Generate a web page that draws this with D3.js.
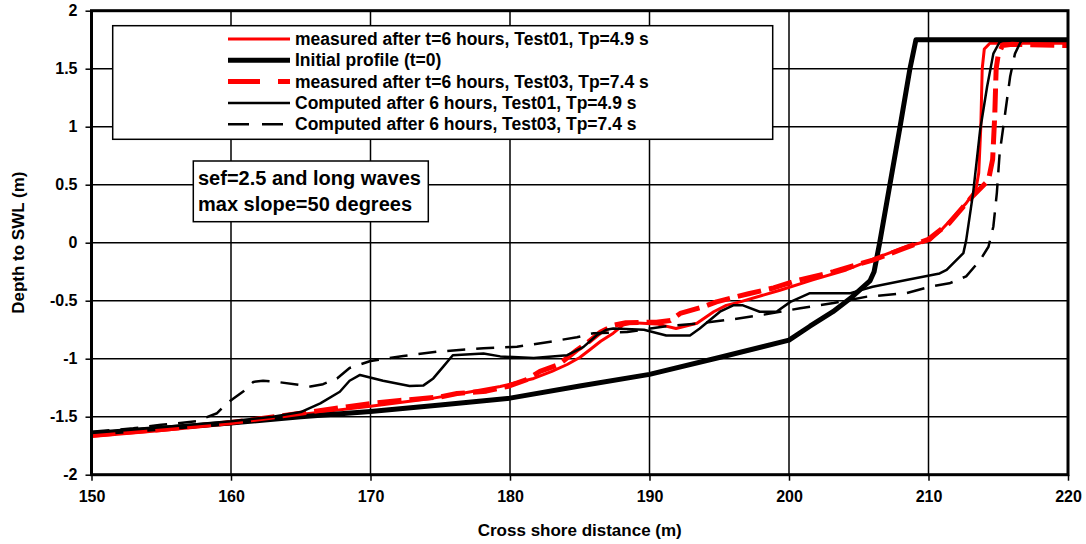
<!DOCTYPE html>
<html>
<head>
<meta charset="utf-8">
<script src="https://cdn.jsdelivr.net/npm/d3@7"></script>
<style>
  html, body { margin: 0; padding: 0; background: #fff; }
  svg { display: block; font-family: "Liberation Sans", Arial, sans-serif; font-weight: bold; }
</style>
</head>
<body>
<svg id="chart" width="1086" height="544"></svg>
<script>
// Cross-shore profiles: x = cross shore distance (m), y = depth to SWL (m)
const measuredTest01 = [
  [150,-1.67],[155,-1.62],[160,-1.56],[165,-1.48],[170,-1.41],[174.5,-1.34],[177,-1.29],
  [179.3,-1.24],[181.7,-1.17],[183,-1.11],[184.1,-1.05],[185,-0.99],[185.7,-0.925],
  [186.5,-0.85],[187.4,-0.78],[188.1,-0.71],[188.8,-0.69],[190.5,-0.70],[191.9,-0.74],
  [193.4,-0.695],[194.6,-0.595],[195.5,-0.54],[196.5,-0.51],[199.35,-0.41],[201.7,-0.32],
  [204.1,-0.235],[206.5,-0.12],[208.5,-0.03],[210.1,0.02],[211,0.12],[212.7,0.34],
  [213.4,0.46],[213.6,0.6],[213.75,1.0],[213.85,1.5],[214.0,1.67],[214.4,1.72],[217,1.72],[220,1.72]
];
const initialProfile = [
  [150,-1.645],[155,-1.60],[160,-1.555],[165,-1.50],[170,-1.455],[175,-1.40],[180,-1.34],
  [185,-1.235],[190,-1.135],[195,-0.99],[200,-0.84],[201.5,-0.72],[203.15,-0.595],
  [204.5,-0.47],[205.8,-0.33],[206.1,-0.25],[206.5,0.0],[207.96,1.0],[208.67,1.5],
  [209.1,1.75],[220,1.75]
];
const measuredTest03 = [
  [150,-1.66],[155,-1.61],[160,-1.55],[165,-1.47],[168,-1.42],[170.4,-1.38],[172.1,-1.36],
  [175,-1.33],[176.2,-1.30],[178.3,-1.28],[179.8,-1.24],[181.2,-1.18],[182.15,-1.11],
  [183.5,-1.05],[184.8,-0.925],[185.5,-0.867],[186.5,-0.77],[187.5,-0.71],[188.3,-0.69],
  [190.5,-0.685],[191.5,-0.67],[192.2,-0.61],[193.8,-0.555],[194.8,-0.51],[196.25,-0.465],
  [197.1,-0.44],[198.9,-0.39],[200.3,-0.335],[202.2,-0.28],[203.2,-0.25],[206,-0.15],
  [208,-0.06],[210,0.03],[211.5,0.17],[213,0.38],[214.3,0.54],[214.6,0.72],[214.75,1.1],
  [214.85,1.5],[215.0,1.62],[215.3,1.70],[216,1.71],[220,1.70]
];
const computedTest01 = [
  [150,-1.64],[155,-1.59],[160,-1.54],[163,-1.50],[165,-1.46],[166.4,-1.385],[167.8,-1.285],
  [168.5,-1.19],[169.25,-1.14],[170.9,-1.19],[172.8,-1.235],[173.8,-1.23],[174.5,-1.17],
  [175.2,-1.07],[175.9,-0.97],[178.1,-0.955],[179.3,-0.98],[181.7,-0.995],[184.1,-0.97],
  [185.25,-0.90],[186.2,-0.80],[186.9,-0.75],[187.4,-0.74],[189.6,-0.75],[191.2,-0.80],
  [192.9,-0.80],[193.6,-0.74],[195.05,-0.595],[196,-0.54],[196.7,-0.54],[197.9,-0.595],
  [199.1,-0.595],[200.1,-0.51],[201.5,-0.435],[204.4,-0.435],[206,-0.38],[208.5,-0.32],
  [210.8,-0.265],[211.3,-0.235],[212.5,-0.09],[212.7,0.02],[213.2,0.43],[213.7,0.97],
  [214.2,1.345],[214.65,1.63],[215.1,1.73],[215.5,1.75],[220,1.75]
];
const computedTest03 = [
  [150,-1.63],[153,-1.60],[155,-1.57],[157.5,-1.54],[159,-1.47],[159.7,-1.385],[160.9,-1.28],
  [161.6,-1.20],[162.3,-1.19],[163.3,-1.20],[165.7,-1.24],[166.6,-1.22],[167.6,-1.17],
  [168.5,-1.08],[170,-1.02],[172.35,-0.977],[174.75,-0.94],[178.1,-0.91],[180.5,-0.897],
  [182.9,-0.853],[184.8,-0.815],[186,-0.78],[188.4,-0.77],[191.2,-0.72],[193.6,-0.695],
  [196,-0.66],[198.2,-0.62],[200.8,-0.565],[203.2,-0.52],[205.6,-0.465],[208.4,-0.435],
  [210.1,-0.38],[211.5,-0.35],[212.7,-0.29],[213.7,-0.15],[214.3,-0.035],[214.65,0.14],
  [214.9,0.43],[215.1,0.77],[215.5,1.12],[215.85,1.43],[216.2,1.63],[216.6,1.73],[217,1.75],[220,1.75]
];

const xTicks = [150,160,170,180,190,200,210,220];
const yTicks = [-2,-1.5,-1,-0.5,0,0.5,1,1.5,2];
const legendLabels = [
  "measured after t=6 hours, Test01, Tp=4.9 s",
  "Initial profile (t=0)",
  "measured after t=6 hours, Test03, Tp=7.4 s",
  "Computed after 6 hours, Test01, Tp=4.9 s",
  "Computed after 6 hours, Test03, Tp=7.4 s"
];
const noteLines = ["sef=2.5 and long waves", "max slope=50 degrees"];
const xTitle = "Cross shore distance (m)";
const yTitle = "Depth to SWL (m)";

// Series styling, in drawing order (later series on top)
const series = [
  { data: measuredTest01, color: "#ff0000", width: 3,   dash: null,    legendDash: null },
  { data: initialProfile, color: "#000000", width: 5,   dash: null,    legendDash: null },
  { data: measuredTest03, color: "#ff0000", width: 5,   dash: "24,8",  legendDash: "32,18" },
  { data: computedTest01, color: "#000000", width: 2.5, dash: null,    legendDash: null },
  { data: computedTest03, color: "#000000", width: 2.5, dash: "18,11", legendDash: "21,13" }
];

const svg = d3.select("#chart");
const plotLeft = 91.5, plotRight = 1068, plotTop = 10.7, plotBottom = 474.7;

const x = d3.scaleLinear().domain([150, 220]).range([plotLeft, plotRight]);
const y = d3.scaleLinear().domain([-2, 2]).range([plotBottom, plotTop]);

// Grid
const grid = svg.append("g").attr("stroke", "#000").attr("stroke-width", 1.5);
grid.selectAll("line.v").data(xTicks).enter().append("line")
  .attr("x1", d => x(d)).attr("x2", d => x(d)).attr("y1", plotTop).attr("y2", plotBottom);
grid.selectAll("line.h").data(yTicks).enter().append("line")
  .attr("y1", d => y(d)).attr("y2", d => y(d)).attr("x1", plotLeft).attr("x2", plotRight);

// Axes
const xAxis = d3.axisBottom(x).tickValues(xTicks).tickSize(6).tickPadding(10).tickFormat(d3.format("d"));
const yAxis = d3.axisLeft(y).tickValues(yTicks).tickSize(6).tickPadding(8).tickFormat(d => String(d));

const gx = svg.append("g").attr("transform", `translate(0,${plotBottom})`).call(xAxis);
const gy = svg.append("g").attr("transform", `translate(${plotLeft},0)`).call(yAxis);
[gx, gy].forEach(g => {
  g.select(".domain").remove();
  g.selectAll(".tick line").attr("stroke", "#000").attr("stroke-width", 1.5);
  g.selectAll(".tick text").attr("fill", "#000")
    .style("font-family", "'Liberation Sans', Arial, sans-serif")
    .style("font-weight", "bold").style("font-size", "16px");
});

// Profiles
svg.append("defs").append("clipPath").attr("id", "plotClip")
  .append("rect").attr("x", plotLeft).attr("y", plotTop)
  .attr("width", plotRight - plotLeft).attr("height", plotBottom - plotTop);

const line = d3.line().x(d => x(d[0])).y(d => y(d[1]));
const plot = svg.append("g").attr("clip-path", "url(#plotClip)");
series.forEach(s => {
  plot.append("path").datum(s.data)
    .attr("d", line)
    .attr("fill", "none")
    .attr("stroke", s.color)
    .attr("stroke-width", s.width)
    .attr("stroke-linejoin", "round")
    .attr("stroke-dasharray", s.dash);
});

// Plot frame
svg.append("rect").attr("x", plotLeft).attr("y", plotTop)
  .attr("width", plotRight - plotLeft).attr("height", plotBottom - plotTop)
  .attr("fill", "none").attr("stroke", "#000").attr("stroke-width", 3);

// Legend
const legend = svg.append("g");
legend.append("rect").attr("x", 112.7).attr("y", 25.7).attr("width", 660).attr("height", 113.6)
  .attr("fill", "#fff").attr("stroke", "#000").attr("stroke-width", 1.5);
legendLabels.forEach((label, i) => {
  const s = series[i];
  const ly = 39 + i * 21.3;
  legend.append("line").attr("x1", 228).attr("x2", 290).attr("y1", ly).attr("y2", ly)
    .attr("stroke", s.color).attr("stroke-width", s.width).attr("stroke-dasharray", s.legendDash);
  legend.append("text").attr("x", 295).attr("y", ly).attr("dy", "0.35em")
    .attr("font-size", 17.5).attr("fill", "#000").text(label);
});

// Note box
const note = svg.append("g");
note.append("rect").attr("x", 193.3).attr("y", 161).attr("width", 235).attr("height", 60.7)
  .attr("fill", "#fff").attr("stroke", "#000").attr("stroke-width", 1.5);
noteLines.forEach((t, i) => {
  note.append("text").attr("x", 198).attr("y", 184.5 + i * 26)
    .attr("font-size", 20).attr("fill", "#000").text(t);
});

// Axis titles
svg.append("text").attr("x", (plotLeft + plotRight) / 2).attr("y", 536)
  .attr("text-anchor", "middle").attr("font-size", 17).attr("fill", "#000").text(xTitle);
svg.append("text").attr("transform", `translate(24,${(plotTop + plotBottom) / 2}) rotate(-90)`)
  .attr("text-anchor", "middle").attr("font-size", 17).attr("fill", "#000").text(yTitle);
</script>
</body>
</html>
